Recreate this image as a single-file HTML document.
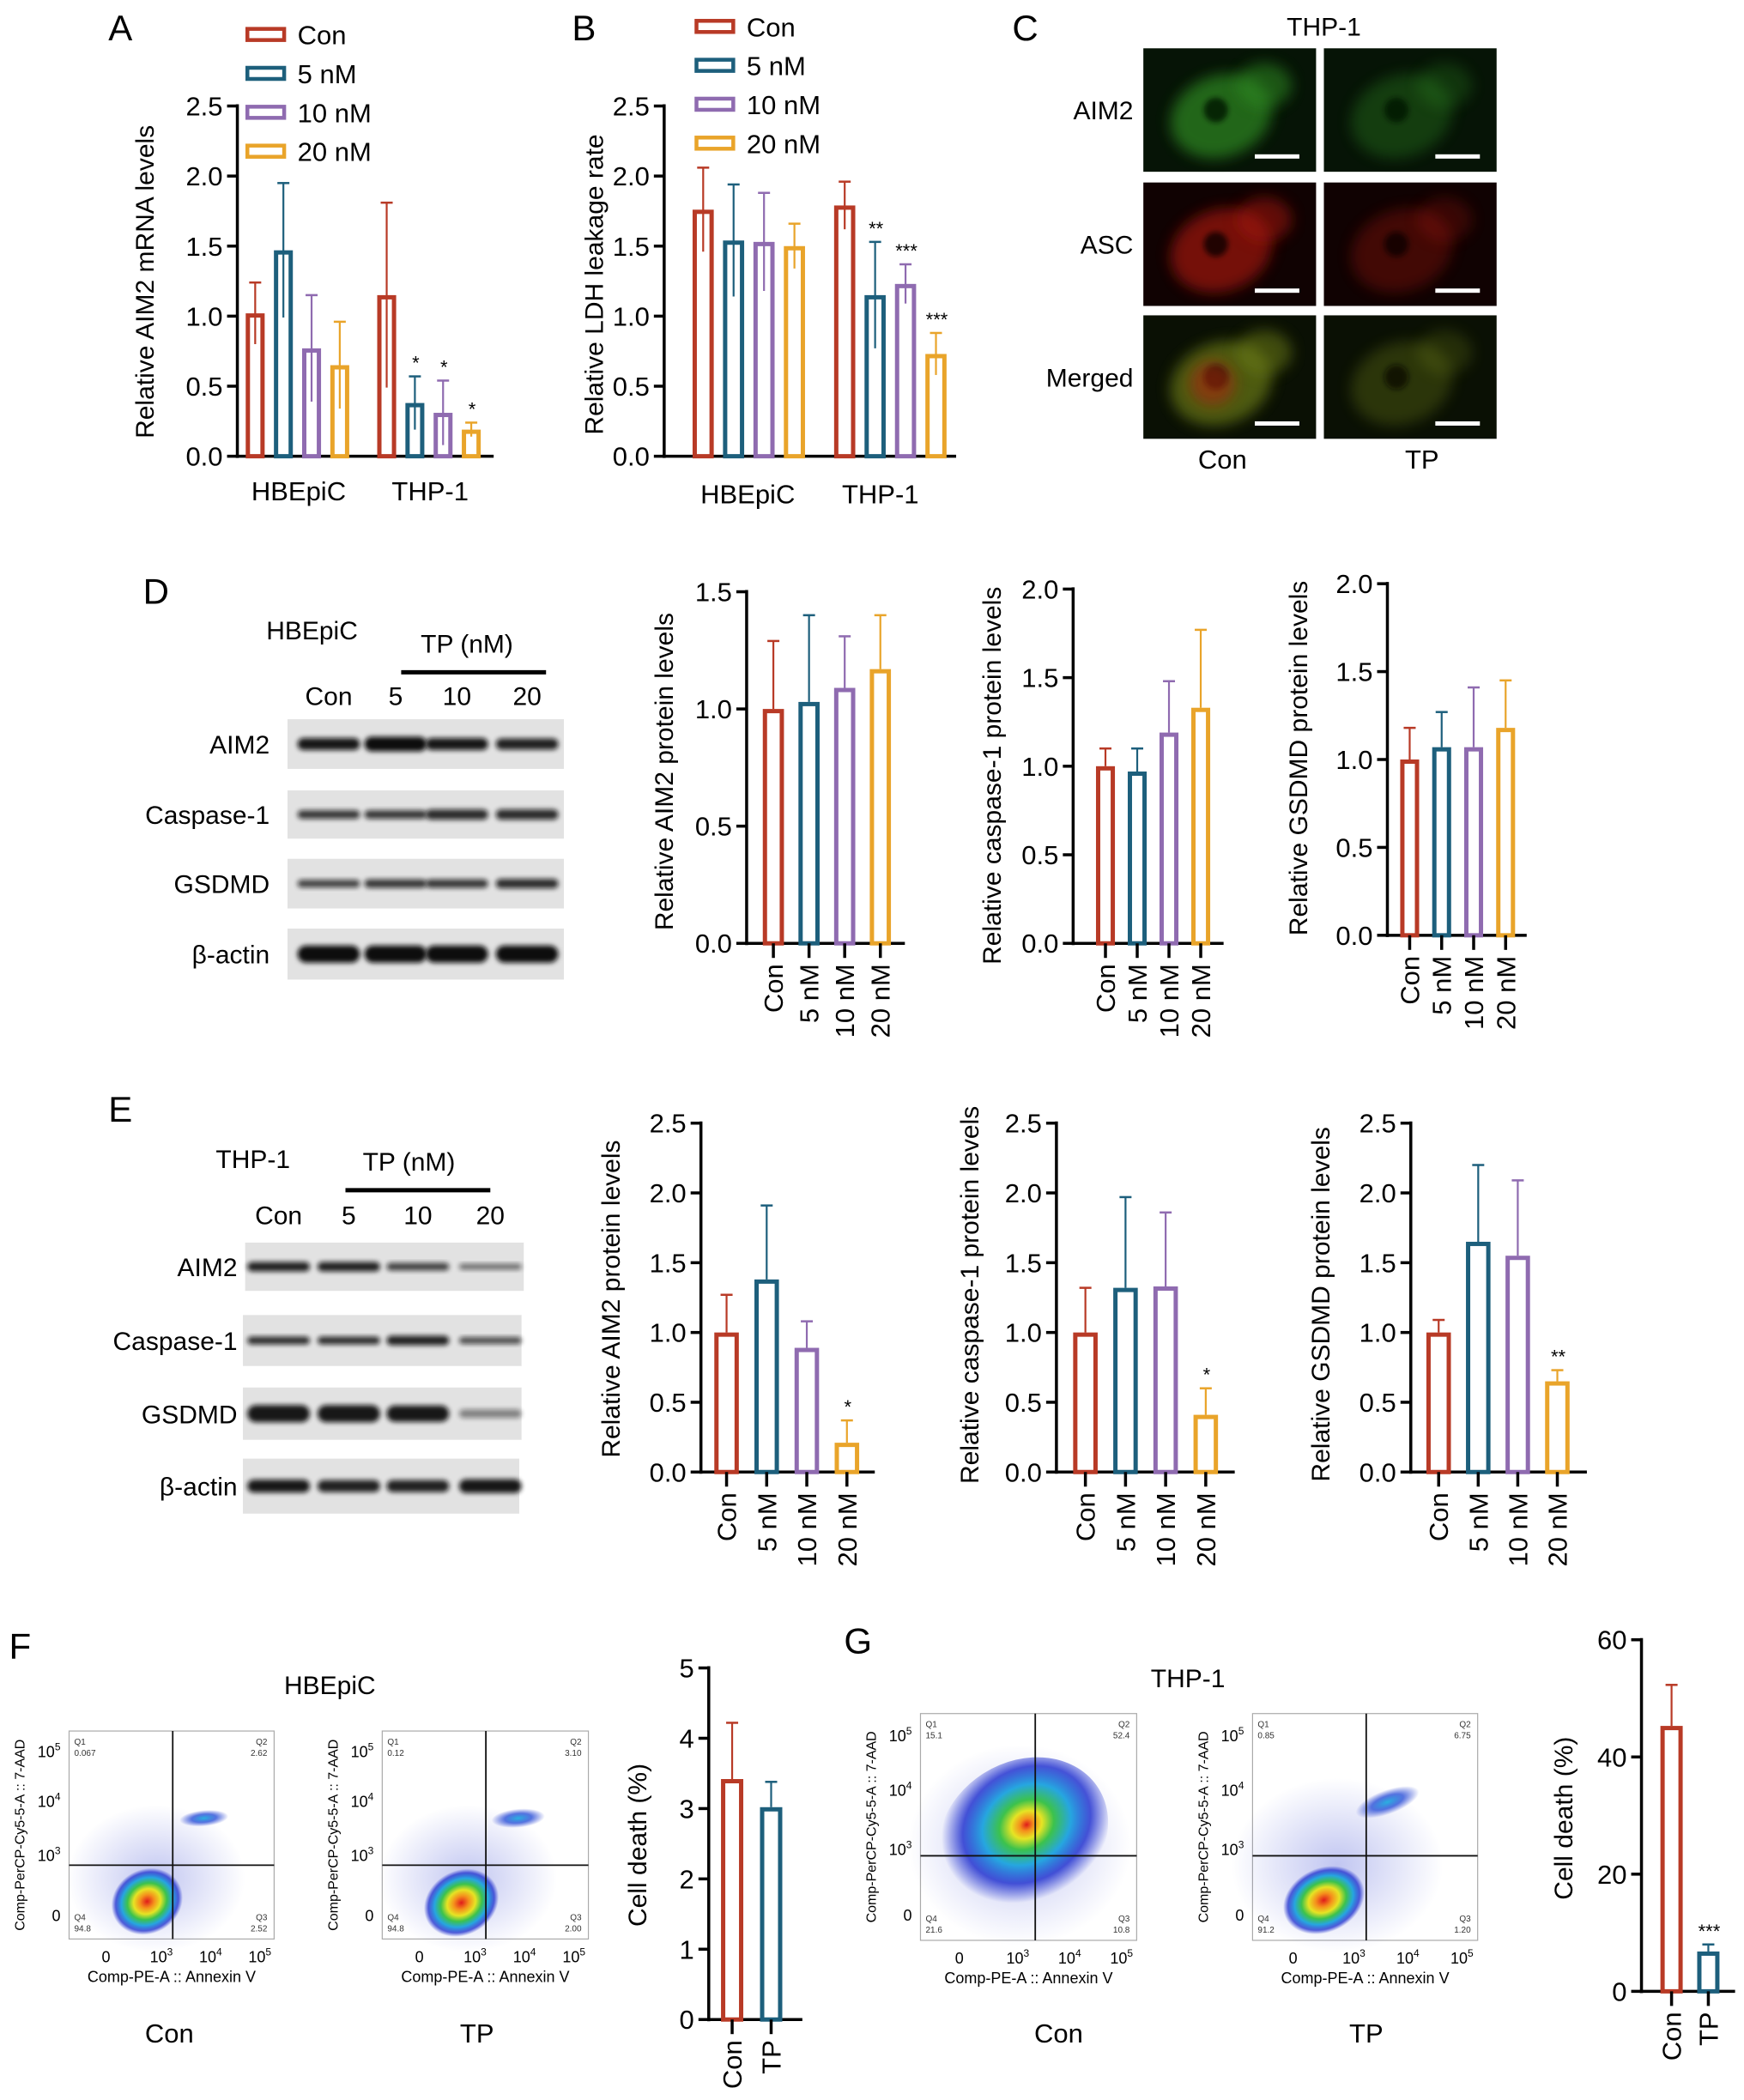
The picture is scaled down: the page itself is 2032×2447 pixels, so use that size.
<!DOCTYPE html>
<html><head><meta charset="utf-8"><style>
html,body{margin:0;padding:0;background:#fff}
svg{display:block;font-family:"Liberation Sans",Arial,sans-serif}
</style></head><body>
<svg id="fig" xmlns="http://www.w3.org/2000/svg" width="2032" height="2447" viewBox="0 0 2032 2447">
<defs>
<filter id="blur3" x="-20%" y="-50%" width="140%" height="200%"><feGaussianBlur stdDeviation="3"/></filter>
<filter id="blur8" x="-50%" y="-50%" width="200%" height="200%"><feGaussianBlur stdDeviation="8"/></filter>
<radialGradient id="heat"><stop offset="0" stop-color="#e01b1b"/><stop offset="0.2" stop-color="#f5901c"/><stop offset="0.38" stop-color="#e6e424"/><stop offset="0.55" stop-color="#3cc24c"/><stop offset="0.72" stop-color="#26a6e0"/><stop offset="0.88" stop-color="#2636d0" stop-opacity="0.8"/><stop offset="1" stop-color="#2636d0" stop-opacity="0"/></radialGradient>
<radialGradient id="heatwide" cx="0.55" cy="0.45"><stop offset="0" stop-color="#e01b1b"/><stop offset="0.08" stop-color="#f5901c"/><stop offset="0.18" stop-color="#e6e424"/><stop offset="0.32" stop-color="#3cc24c"/><stop offset="0.52" stop-color="#26a6e0"/><stop offset="0.75" stop-color="#2636d0" stop-opacity="0.85"/><stop offset="1" stop-color="#2636d0" stop-opacity="0"/></radialGradient>
<radialGradient id="cool"><stop offset="0" stop-color="#2ab0e0"/><stop offset="0.5" stop-color="#2a50d8" stop-opacity="0.8"/><stop offset="1" stop-color="#2a40d0" stop-opacity="0"/></radialGradient>
<radialGradient id="scat"><stop offset="0" stop-color="#3040d0" stop-opacity="0.3"/><stop offset="1" stop-color="#3040d0" stop-opacity="0"/></radialGradient>
</defs>
</svg>
<script>
// ---------- data ----------
const concCats = ['Con','5 nM','10 nM','20 nM'];
const groupCats = ['HBEpiC','THP-1'];
const aHBE = [1.02,1.47,0.77,0.65];
const aHBEerr = [1.24,1.95,1.15,0.96];
const aTHP = [1.15,0.38,0.31,0.19];
const aTHPerr = [1.81,0.57,0.54,0.24];
const aStars = ['', '*','*','*'];
const bHBE = [1.76,1.54,1.53,1.50];
const bHBEerr = [2.06,1.94,1.88,1.66];
const bTHP = [1.79,1.15,1.23,0.73];
const bTHPerr = [1.96,1.53,1.37,0.88];
const bStars = ['', '**','***','***'];
const d1Vals = [1.0,1.03,1.09,1.17];
const d1Err = [1.29,1.40,1.31,1.40];
const d2Vals = [1.0,0.97,1.19,1.33];
const d2Err = [1.10,1.10,1.48,1.77];
const d3Vals = [1.0,1.07,1.07,1.18];
const d3Err = [1.18,1.27,1.41,1.45];
const e1Vals = [1.0,1.38,0.89,0.21];
const e1Err = [1.27,1.91,1.08,0.37];
const e1Stars = ['','','','*'];
const e2Vals = [1.0,1.32,1.33,0.41];
const e2Err = [1.32,1.97,1.86,0.60];
const e2Stars = ['','','','*'];
const e3Vals = [1.0,1.65,1.55,0.65];
const e3Err = [1.09,2.20,2.09,0.73];
const e3Stars = ['','','','**'];
const tpCats = ['Con','TP'];
const fVals = [3.42,3.02];
const fErr = [4.22,3.38];
const gVals = [45.3,6.8];
const gErr = [52.3,8.0];
const gStars = ['','***'];
const ticks25 = [0,0.5,1.0,1.5,2.0,2.5];
const ticks15 = [0,0.5,1.0,1.5];
const ticks20 = [0,0.5,1.0,1.5,2.0];
const ticks5 = [0,1,2,3,4,5];
const ticks60 = [0,20,40,60];
const COLORS = ['#b83a26','#1d5f7c','#8f6bb0','#e9a42a'];

// ---------- helpers ----------
const NS='http://www.w3.org/2000/svg';
const svg=document.getElementById('fig');
const X=z=>z*1.2984, Y=z=>z*1.5636;
function mk(tag,attrs,parent){const e=document.createElementNS(NS,tag);for(const k in attrs)e.setAttribute(k,attrs[k]);(parent||svg).appendChild(e);return e;}
function line(x1,y1,x2,y2,w,col,parent){return mk('line',{x1:x1,y1:y1,x2:x2,y2:y2,stroke:col||'#000','stroke-width':w},parent);}
function txt(x,y,s,size,anchor,parent,rot){const t=mk('text',{x:x,y:y,'font-size':size,'text-anchor':anchor||'middle',fill:'#000'},parent);if(rot)t.setAttribute('transform','rotate('+rot+' '+x+' '+y+')');t.textContent=s;return t;}
function fmt(t,dec){return dec?t.toFixed(1):String(t);}

// ---------- bar chart ----------
function chart(c){
  const g=mk('g',{});
  
  
  const ax=X(c.ax), y0=Y(c.y0), yt=Y(c.yTop);
  const yv=v=>y0-(v/c.vmax)*(y0-yt);
  const ya=mk('line',{x1:ax,y1:yt-2,x2:ax,y2:y0+2,stroke:'#000','stroke-width':3.5},g);
  
  
  const xa=mk('line',{x1:ax-2,y1:y0,x2:X(c.xEnd),y2:y0,stroke:'#000','stroke-width':3.5},g);
  
  
  c.ticks.forEach(t=>{
    line(ax-12,yv(t),ax,yv(t),3.5,'#000',g);
    const tl=txt(ax-17,yv(t)+11,fmt(t,c.dec),31,'end',g);
    
    
  });
  const w=X(c.barW);
  c.series.forEach((s,i)=>{
    const cx=X(c.centers[i]); const col=COLORS[s.ci];
    const top=yv(s.v), et=yv(s.e);
    const lo = c.both ? yv(Math.max(0,2*s.v-s.e)) : top;
    const er=mk('line',{x1:cx,y1:et,x2:cx,y2:lo,stroke:col,'stroke-width':2.2},g);
    
    
    line(cx-7,et,cx+7,et,2.5,col,g);
    const r=mk('rect',{x:cx-w/2+2.5,y:top+2.5,width:w-5,height:Math.max(0,y0-top-2.5),fill:c.both?'none':'#fff',stroke:col,'stroke-width':5},g);
    
    
    if(s.star){const st=txt(cx+1,et-8,s.star,22,'middle',g);
      
      }
    if(c.rotLabels){
      line(cx,y0,cx,y0+17,3.5,'#000',g);
      const lt=txt(cx+11,y0+24,s.label,31,'end',g,-90);
      
      
    }
  });
  if(c.groupLabels){c.groupLabels.forEach(gl=>{
    const t=txt(X(gl.x),Y(gl.y),gl.s,31,'middle',g);
    
    });}
  const tt=txt(X(c.titleX),Y(c.titleY),c.title,30,'middle',g,-90);
  
  
}
function seq(start,step,n){const a=[];for(let i=0;i<n;i++)a.push(start+i*step);return a;}
function ser(vals,errs,cats,stars,cis){return vals.map((v,i)=>({v:v,e:errs[i],label:cats[i],star:stars?stars[i]:'',ci:cis?cis[i]:i}));}

// panel letters
[['A',108,30],['B',524,30],['C',920,30],['D',140,450],['E',108,836],['F',18,1236],['G',770,1232]].forEach(p=>{
  const t=txt(X(p[1]),Y(p[2]),p[0],42,'middle');
  
  
});

// legends
function legend(x,ys,name){
  const g=mk('g',{});
  
  
  concCats.forEach((c,i)=>{
    const r=mk('rect',{x:X(x),y:Y(ys[i])-7,width:X(33),height:13,fill:'#fff',stroke:COLORS[i],'stroke-width':4.5},g);
    
    
    const t=txt(X(x+45),Y(ys[i])+11,c,31,'start',g);
    
    
  });
}
legend(222,[26,55,84,113],'legend-a');
legend(625,[20,49,78,107],'legend-b');

// A
chart({name:'chart-a',ax:213,y0:340,yTop:79,vmax:2.5,ticks:ticks25,dec:true,xEnd:443,barW:17,both:true,
  centers:seq(229,25.3,4).concat(seq(347,25.3,4)),
  series:ser(aHBE,aHBEerr,concCats,null).concat(ser(aTHP,aTHPerr,concCats,aStars)),
  groupLabels:[{x:268,y:373,s:groupCats[0]},{x:386,y:373,s:groupCats[1]}],
  title:'Relative AIM2 mRNA levels',titleX:138,titleY:210});
// B
chart({name:'chart-b',ax:596,y0:340,yTop:79,vmax:2.5,ticks:ticks25,dec:true,xEnd:858,barW:19,both:true,
  centers:seq(631,27.3,4).concat(seq(758,27.3,4)),
  series:ser(bHBE,bHBEerr,concCats,null).concat(ser(bTHP,bTHPerr,concCats,bStars)),
  groupLabels:[{x:671,y:375,s:groupCats[0]},{x:790,y:375,s:groupCats[1]}],
  title:'Relative LDH leakage rate',titleX:541,titleY:212});
// D charts
chart({name:'chart-d-aim2',ax:670,y0:703,yTop:441,vmax:1.5,ticks:ticks15,dec:true,xEnd:812,barW:19,rotLabels:true,
  centers:seq(694,32,4),series:ser(d1Vals,d1Err,concCats),title:'Relative AIM2 protein levels',titleX:604,titleY:575});
chart({name:'chart-d-caspase1',ax:963,y0:703,yTop:439,vmax:2.0,ticks:ticks20,dec:true,xEnd:1098,barW:17,rotLabels:true,
  centers:seq(992,28.5,4),series:ser(d2Vals,d2Err,concCats),title:'Relative caspase-1 protein levels',titleX:898,titleY:578});
chart({name:'chart-d-gsdmd',ax:1245,y0:697,yTop:435,vmax:2.0,ticks:ticks20,dec:true,xEnd:1370,barW:17,rotLabels:true,
  centers:seq(1265,28.7,4),series:ser(d3Vals,d3Err,concCats),title:'Relative GSDMD protein levels',titleX:1173,titleY:565});
// E charts
chart({name:'chart-e-aim2',ax:629,y0:1097,yTop:837,vmax:2.5,ticks:ticks25,dec:true,xEnd:785,barW:22,rotLabels:true,
  centers:seq(652,36,4),series:ser(e1Vals,e1Err,concCats,e1Stars),title:'Relative AIM2 protein levels',titleX:556,titleY:968});
chart({name:'chart-e-caspase1',ax:948,y0:1097,yTop:837,vmax:2.5,ticks:ticks25,dec:true,xEnd:1108,barW:22,rotLabels:true,
  centers:seq(974,36,4),series:ser(e2Vals,e2Err,concCats,e2Stars),title:'Relative caspase-1 protein levels',titleX:878,titleY:965});
chart({name:'chart-e-gsdmd',ax:1266,y0:1097,yTop:837,vmax:2.5,ticks:ticks25,dec:true,xEnd:1424,barW:22,rotLabels:true,
  centers:seq(1291,35.5,4),series:ser(e3Vals,e3Err,concCats,e3Stars),title:'Relative GSDMD protein levels',titleX:1193,titleY:972});
// F, G
chart({name:'chart-f-cell-death',ax:636,y0:1505,yTop:1243,vmax:5,ticks:ticks5,dec:false,xEnd:720,barW:20,rotLabels:true,
  centers:seq(657,35,2),series:ser(fVals,fErr,tpCats,null,[0,1]),title:'Cell death (%)',titleX:580,titleY:1375});
chart({name:'chart-g-cell-death',ax:1473,y0:1484,yTop:1222,vmax:60,ticks:ticks60,dec:false,xEnd:1557,barW:20,rotLabels:true,
  centers:seq(1500,33,2),series:ser(gVals,gErr,tpCats,gStars,[0,1]),title:'Cell death (%)',titleX:1411,titleY:1355});

// ---------- microscopy (C) ----------
(function(){
  const g=mk('g',{});
  
  
  const t=txt(X(1188),Y(20)+10,'THP-1',30,'middle',g);
  
  
  const cols=[1026,1188], rows=[36,136,235], cw=155, rh=92;
  const rowNames=['AIM2','ASC','Merged'];
  const palettes=[['#2f8a22','#061406'],['#a01510','#100202'],['#6a7a18','#0a1004']];
  rows.forEach((ry,ri)=>{
    const lt=txt(X(1017),Y(ry+rh/2)+11,rowNames[ri],30,'end',g);
    
    
    cols.forEach((cx,ci)=>{
      const bg=palettes[ri][1];
      const r=mk('rect',{x:X(cx),y:Y(ry),width:X(cw),height:Y(rh),fill:bg},g);
      
      
      const col=palettes[ri][0];
      const op=ci===0?0.7:0.35;
      mk('ellipse',{cx:X(cx+cw*0.45),cy:Y(ry+rh*0.55),rx:X(cw*0.3),ry:Y(rh*0.33),fill:col,opacity:op,filter:'url(#blur8)',transform:'rotate(-20 '+X(cx+cw*0.45)+' '+Y(ry+rh*0.55)+')'},g);
      mk('ellipse',{cx:X(cx+cw*0.7),cy:Y(ry+rh*0.3),rx:X(cw*0.16),ry:Y(rh*0.18),fill:col,opacity:op*0.8,filter:'url(#blur8)'},g);
      mk('ellipse',{cx:X(cx+cw*0.42),cy:Y(ry+rh*0.5),rx:X(cw*0.07),ry:Y(rh*0.1),fill:bg,opacity:0.8,filter:'url(#blur3)'},g);
      if(ri===2&&ci===0){mk('ellipse',{cx:X(cx+cw*0.4),cy:Y(ry+rh*0.55),rx:X(cw*0.13),ry:Y(rh*0.18),fill:'#b02010',opacity:0.55,filter:'url(#blur8)'},g);}
      const sb=mk('rect',{x:X(cx+cw-55),y:Y(ry+rh-13),width:X(40),height:5,fill:'#fff'},g);
      
      
    });
  });
  [['Con',1097],['TP',1276]].forEach(p=>{const c=txt(X(p[1]),Y(342)+11,p[0],31,'middle',g);
    
    });
})();

// ---------- western blots ----------
function blot(o){
  const g=mk('g',{});
  
  
  const t1=txt(X(o.cell[1]),Y(o.cell[2])+10,o.cell[0],30,'middle',g);
  
  
  const t2=txt(X(o.tp[0]),Y(o.tp[1])+10,'TP (nM)',30,'middle',g);
  
  
  line(X(o.bar[0]),Y(o.bar[2]),X(o.bar[1]),Y(o.bar[2]),5,'#000',g);
  ['Con','5','10','20'].forEach((s,i)=>{const l=txt(X(o.lanes[i]),Y(o.laneY)+10,s,30,'middle',g);
    
    });
  o.rows.forEach((r,ri)=>{
    const bg=mk('rect',{x:X(r.x0),y:Y(r.y0),width:X(r.x1-r.x0),height:Y(r.y1-r.y0),fill:'#e2e2e2'},g);
    
    
    const lab=txt(X(o.labX),Y((r.y0+r.y1)/2)+11,r.label,30,'end',g);
    
    
    const cy=Y((r.y0+r.y1)/2);
    o.lanes.forEach((lx,li)=>{
      const th=r.th[li];
      if(th<=0)return;
      const b=mk('rect',{x:X(lx-28),y:cy-th/2,width:X(56),height:th,rx:th/2,fill:'#111',opacity:r.op[li],filter:'url(#blur3)'},g);
      
      
    });
  });
}
blot({name:'blot-d',cell:['HBEpiC',280,470],tp:[419,480],bar:[360,490,501],lanes:[295,355,410,473],laneY:519,labX:242,
  rows:[{label:'AIM2',x0:258,x1:506,y0:536,y1:573,th:[14,17,14,13],op:[0.95,1,0.95,0.9]},
        {label:'Caspase-1',x0:258,x1:506,y0:589,y1:625,th:[10,10,12,12],op:[0.8,0.8,0.85,0.85]},
        {label:'GSDMD',x0:258,x1:506,y0:640,y1:677,th:[9,10,10,11],op:[0.75,0.8,0.8,0.85]},
        {label:'\u03B2-actin',x0:258,x1:506,y0:692,y1:730,th:[20,20,20,20],op:[1,1,1,1]}]});
blot({name:'blot-e',cell:['THP-1',227,864],tp:[367,866],bar:[310,440,887],lanes:[250,313,375,440],laneY:906,labX:213,
  rows:[{label:'AIM2',x0:220,x1:470,y0:926,y1:962,th:[11,11,9,7],op:[0.9,0.9,0.75,0.55]},
        {label:'Caspase-1',x0:218,x1:468,y0:980,y1:1018,th:[9,9,11,8],op:[0.85,0.85,0.9,0.7]},
        {label:'GSDMD',x0:218,x1:468,y0:1034,y1:1073,th:[20,20,19,10],op:[0.95,0.95,0.95,0.45]},
        {label:'\u03B2-actin',x0:218,x1:466,y0:1087,y1:1128,th:[15,14,14,16],op:[0.95,0.9,0.9,0.95]}]});

// ---------- flow cytometry ----------
function flow(o){
  const g=mk('g',{});
  
  
  const x0=X(o.x0),x1=X(o.x1),y0=Y(o.yt),y1=Y(o.yb),W=x1-x0,H=y1-y0;
  const fr=mk('rect',{x:x0,y:y0,width:W,height:H,fill:'#fff',stroke:'#aaa','stroke-width':1.2},g);
  
  
  mk('ellipse',{cx:X(o.sc[0]),cy:Y(o.sc[1]),rx:X(o.sc[2]),ry:Y(o.sc[3]),fill:'url(#scat)'},g);
  o.blobs.forEach(b=>{
    const e=mk('ellipse',{cx:X(b[0]),cy:Y(b[1]),rx:X(b[2]),ry:Y(b[3]),fill:b[5]||'url(#heat)',transform:'rotate('+b[4]+' '+X(b[0])+' '+Y(b[1])+')'},g);
    
    
  });
  const vx=X(o.cx),hy=Y(o.cy);
  line(vx,y0,vx,y1,1.8,'#111',g);
  line(x0,hy,x1,hy,1.8,'#111',g);
  const q=o.q;
  [['Q1',q[0],x0+6,y0+16,'start'],['Q2',q[1],x1-8,y0+16,'end'],['Q3',q[2],x1-8,y1-22,'end'],['Q4',q[3],x0+6,y1-22,'start']].forEach(a=>{
    const t=txt(a[2],a[3],a[0],10,a[4],g); t.setAttribute('fill','#333');
    
    
    const v=txt(a[2],a[3]+13,a[1],10,a[4],g); v.setAttribute('fill','#333');
    
    
  });
  const yf=[0.1,0.34,0.6,0.89], ex=['5','4','3',''];
  yf.forEach((f,i)=>{
    const t=mk('text',{x:x0-10,y:y0+H*f+6,'font-size':18,'text-anchor':'end'},g);
    
    
    if(ex[i]){t.appendChild(document.createTextNode('10'));const s=mk('tspan',{dy:-8,'font-size':12},t);s.textContent=ex[i];}
    else t.textContent='0';
  });
  const xf=[0.18,0.45,0.69,0.93];
  xf.forEach((f,i)=>{
    const t=mk('text',{x:x0+W*f,y:y1+27,'font-size':18,'text-anchor':'middle'},g);
    
    
    const e=['','3','4','5'][i];
    if(e){t.appendChild(document.createTextNode('10'));const s=mk('tspan',{dy:-8,'font-size':12},t);s.textContent=e;}
    else t.textContent='0';
  });
  const xt=txt(x0+W/2,y1+50,'Comp-PE-A :: Annexin V',18,'middle',g);
  
  
  const yt=txt(x0-52,y0+H/2,'Comp-PerCP-Cy5-5-A :: 7-AAD',16,'middle',g,-90);
  
  
  const c=txt(X(o.lab[1]),Y(1515)+11,o.lab[0],31,'middle',g);
  
  
}
[['HBEpiC',296,1256],['THP-1',1066,1251]].forEach(p=>{const t=txt(X(p[1]),Y(p[2])+10,p[0],30,'middle');
  
  });
flow({name:'flow-hbepic-con',x0:62,x1:246,yt:1290,yb:1445,cx:155,cy:1390,q:['0.067','2.62','2.52','94.8'],lab:['Con',152],
  sc:[140,1400,80,55],blobs:[[132,1417,33,24,-30],[183,1355,22,6,-5,'url(#cool)']]});
flow({name:'flow-hbepic-tp',x0:343,x1:528,yt:1290,yb:1445,cx:436,cy:1390,q:['0.12','3.10','2.00','94.8'],lab:['TP',428],
  sc:[420,1400,80,55],blobs:[[414,1418,35,24,-30],[465,1355,24,7,-5,'url(#cool)']]});
flow({name:'flow-thp1-con',x0:826,x1:1020,yt:1277,yb:1446,cx:929,cy:1383,q:['15.1','52.4','10.8','21.6'],lab:['Con',950],
  sc:[915,1375,100,75],blobs:[[918,1368,80,55,-32,'url(#heatwide)']]});
flow({name:'flow-thp1-tp',x0:1124,x1:1326,yt:1277,yb:1446,cx:1226,cy:1383,q:['0.85','6.75','1.20','91.2'],lab:['TP',1226],
  sc:[1200,1390,95,65],blobs:[[1188,1416,38,24,-25],[1245,1343,30,9,-20,'url(#cool)']]});
</script>
</body></html>
